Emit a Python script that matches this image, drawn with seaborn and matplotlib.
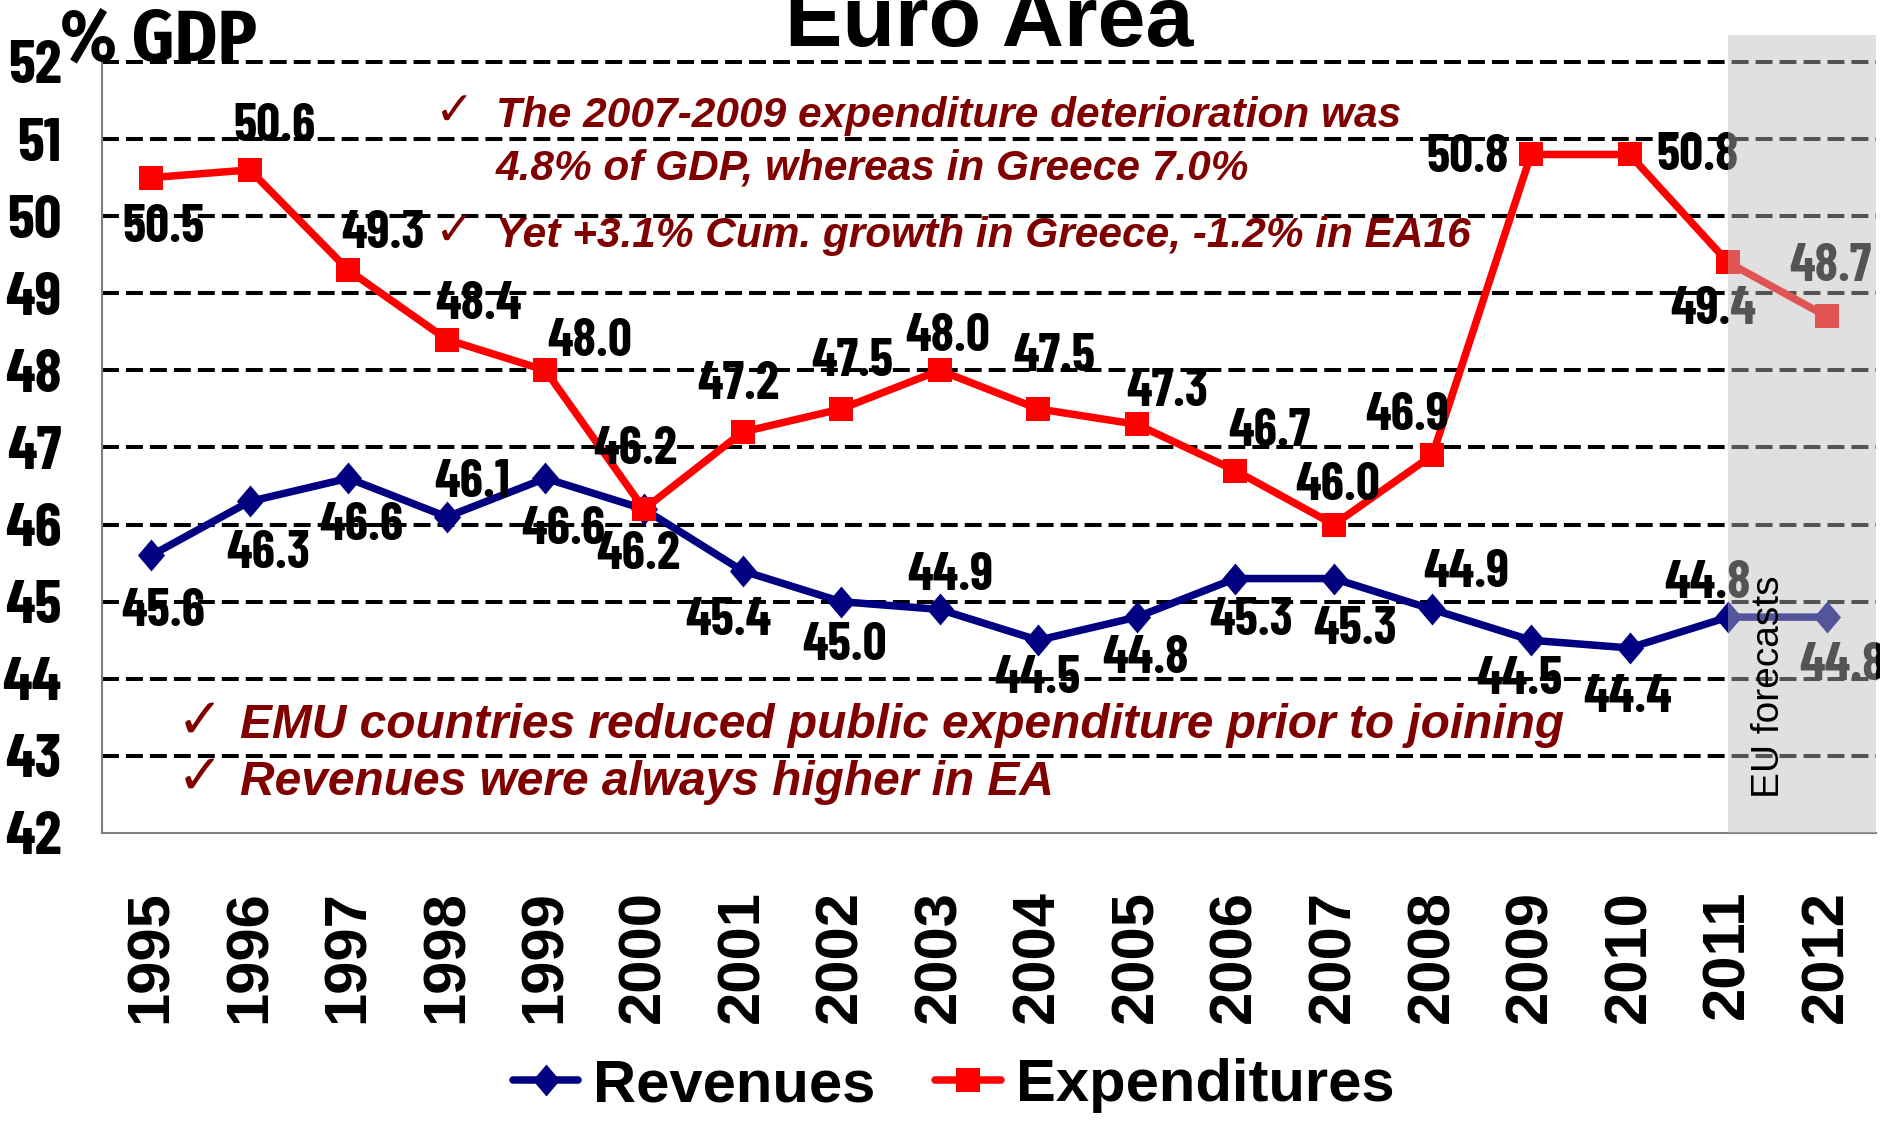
import matplotlib
matplotlib.use("Agg")
import matplotlib.pyplot as plt
import seaborn as sns
import pandas as pd
from matplotlib.lines import Line2D

# ---------------- data ----------------
years = list(range(1995, 2013))
revenues = [45.6, 46.3, 46.6, 46.1, 46.6, 46.2, 45.4, 45.0, 44.9, 44.5,
            44.8, 45.3, 45.3, 44.9, 44.5, 44.4, 44.8, 44.8]
expenditures = [50.5, 50.6, 49.3, 48.4, 48.0, 46.2, 47.2, 47.5, 48.0, 47.5,
                47.3, 46.7, 46.0, 46.9, 50.8, 50.8, 49.4, 48.7]
series_names = ["Revenues", "Expenditures"]
yticks = list(range(42, 53))
forecast_start = 2011
title_text = "Euro Area"
unit_text = "% GDP"
forecast_text = "EU forecasts"
notes_top = ["The 2007-2009 expenditure deterioration was",
             "4.8% of GDP, whereas in Greece 7.0%",
             "Yet +3.1% Cum. growth in Greece, -1.2% in EA16"]
notes_bottom = ["EMU countries reduced public expenditure prior to joining",
                "Revenues were always higher in EA"]

# label offsets (layout only)
exp_off = [(10, 42), (21, -36), (29, -30), (26, -29), (37, -24), (-7, -49),
           (-4, -39), (9, -39), (7, -28), (13, -43), (25, -27), (28, -32),
           (3, -32), (-21, -33), (-53, 3), (57, 1), (-12, 40), (3, -41)]
rev_off = [(10, 47), (15, 44), (11, 40), (21, -28), (15, 43), (-5, 38),
           (-12, 42), (3, 37), (9, -28), (-1, 32), (7, 35), (13, 35),
           (18, 43), (28, -30), (-10, 33), (-2, 42), (-17, -28), (13, 41)]
K = 0.864

sns.set_style("white")
COND = ["Fira Sans Condensed", "Liberation Sans", "DejaVu Sans"]
NARROW = ["Barlow Condensed", "Fira Sans Condensed", "Liberation Sans", "DejaVu Sans"]
WIDE = ["Liberation Sans", "DejaVu Sans"]
plt.rcParams["font.family"] = WIDE
plt.rcParams["text.color"] = "black"
plt.rcParams["xtick.labelcolor"] = "black"
plt.rcParams["ytick.labelcolor"] = "black"

RED = "#ff0000"
NAVY = "#000080"
DARKRED = "#800000"
DIAMOND = [(0, 1), (0.85, 0), (0, -1), (-0.85, 0), (0, 1)]
LW = 5.4
MS_D = 23
MS_S = 17

df = pd.DataFrame({
    "year": years * 2,
    "value": revenues + expenditures,
    "series": [series_names[0]] * len(years) + [series_names[1]] * len(years),
})

fig = plt.figure(figsize=(18.81, 11.24), dpi=100)
ax = fig.add_axes([0.0542, 0.2589, 0.9431, 0.710])

sns.lineplot(data=df, x="year", y="value", hue="series", style="series",
             hue_order=series_names, style_order=series_names,
             palette={series_names[0]: NAVY, series_names[1]: RED},
             markers={series_names[0]: "D", series_names[1]: "s"},
             dashes=False, legend=False, ax=ax, zorder=3)
for ln in ax.lines:
    ln.set_linewidth(LW)
    ln.set_markeredgewidth(0)
    if ln.get_marker() == "D":
        ln.set_marker(DIAMOND)
        ln.set_markersize(MS_D)
    else:
        ln.set_markersize(MS_S)

ax.set_xlim(years[0] - 0.5, years[-1] + 0.5)
ax.set_ylim(yticks[0], yticks[-1] + 0.35)
for yv in yticks[1:]:
    ax.axhline(yv, color="black", linewidth=2.9, linestyle=(0, (4.2, 1.75)), zorder=1)

ax.set_yticks(yticks)
ax.set_yticklabels([str(v) for v in yticks], fontsize=44, fontweight="bold", family=NARROW)
ax.set_xticks([y - 0.5 for y in years] + [years[-1] + 0.5])
ax.set_xticklabels([])
ax.set_xticks(years, minor=True)
ax.set_xticklabels([str(y) for y in years], minor=True, rotation=90,
                   fontsize=43, fontweight="bold", family=WIDE)
ax.tick_params(axis="x", which="major", length=16, width=1.2, color="#808080", direction="out")
ax.tick_params(axis="x", which="minor", length=0, pad=41)
ax.tick_params(axis="y", length=9, width=1.2, color="#808080", pad=20, direction="out")
ax.set_xlabel("")
ax.set_ylabel("")
for s in ["top", "right"]:
    ax.spines[s].set_visible(False)
for s in ["left", "bottom"]:
    ax.spines[s].set_color("#808080")
    ax.spines[s].set_linewidth(1.5)
ax.spines["left"].set_bounds(yticks[0], yticks[-1])

# data labels
for vals, offs in ((expenditures, exp_off), (revenues, rev_off)):
    for yr, v, (dx, dy) in zip(years, vals, offs):
        ax.annotate(f"{v:.1f}", xy=(yr, v), xytext=(dx * K, -dy * K), textcoords="offset points",
                    ha="center", va="center", fontsize=38, fontweight="bold",
                    family=NARROW, color="black", zorder=4)

# forecast shading on top
ax.axvspan(forecast_start, years[-1] + 0.5, color="#bbbbbb", alpha=0.455, lw=0, zorder=10)
ax.text(forecast_start + 0.42, 42.45, forecast_text, rotation=90, ha="center", va="bottom",
        fontsize=28, color="black", family=WIDE, zorder=11)

# notes
def check(x, y, size):
    ax.text(x, y, "\u2713", ha="left", va="center", fontsize=size, color=DARKRED,
            family=["DejaVu Sans"], zorder=5)

def note(x, y, s, size):
    ax.text(x, y, s, ha="left", va="center", fontsize=size, fontweight="bold",
            fontstyle="italic", color=DARKRED, family=WIDE, zorder=5)

check(1997.88, 51.34, 34)
note(1998.5, 51.30, notes_top[0], 30.5)
note(1998.5, 50.62, notes_top[1], 30.5)
check(1997.88, 49.78, 34)
note(1998.5, 49.74, notes_top[2], 30.5)
check(1995.26, 43.43, 40)
note(1995.9, 43.39, notes_bottom[0], 34.5)
check(1995.26, 42.70, 40)
note(1995.9, 42.66, notes_bottom[1], 34.5)

# titles
fig.text(0.526, 1 - 46 / 1124, title_text, ha="center", va="baseline", fontsize=62,
         fontweight="bold", family=WIDE)
fig.text(0.032, 1 - 60 / 1124, unit_text, ha="left", va="baseline", fontsize=52,
         fontweight="bold", family=COND)

# legend
handles = [Line2D([0], [0], color=NAVY, lw=LW, marker=DIAMOND, markersize=MS_D, markeredgewidth=0),
           Line2D([0], [0], color=RED, lw=LW, marker="s", markersize=MS_S, markeredgewidth=0)]
fig.legend(handles, series_names, loc="center", bbox_to_anchor=(0.507, 0.034), ncol=2,
           frameon=False, prop={"size": 43, "weight": "bold", "family": WIDE},
           handlelength=1.1, handletextpad=0.25, columnspacing=1.0)

fig.savefig("out.png", dpi=100)
